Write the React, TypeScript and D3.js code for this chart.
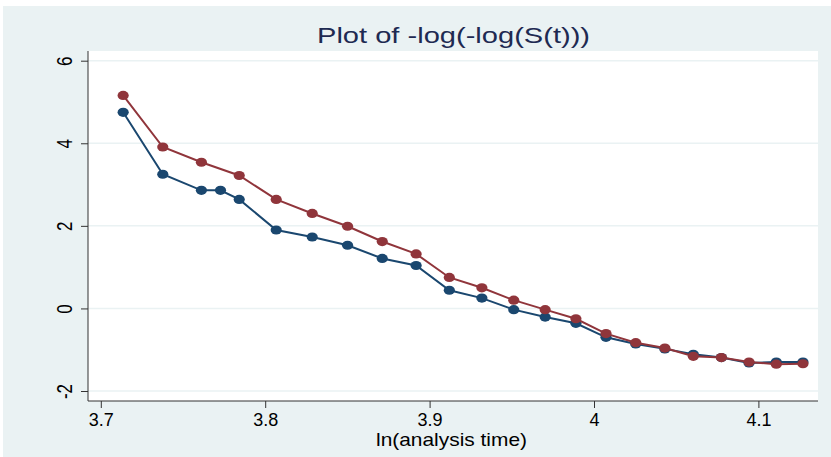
import { useEffect, useRef } from "react";
import * as d3 from "d3";

// ln(analysis time) values
const blueX = [3.7136, 3.7377, 3.7612, 3.7728, 3.7842, 3.8067, 3.8286, 3.8501, 3.8712, 3.8918, 3.912, 3.9318, 3.9512, 3.9703, 3.989, 4.0073, 4.0254, 4.0431, 4.0604, 4.0775, 4.0943, 4.1109, 4.1271];
const blueY = [4.75, 3.25, 2.86, 2.86, 2.64, 1.9, 1.73, 1.53, 1.21, 1.04, 0.44, 0.25, -0.03, -0.21, -0.36, -0.7, -0.86, -0.98, -1.11, -1.19, -1.32, -1.3, -1.3];
const redX = [3.7136, 3.7377, 3.7612, 3.7842, 3.8067, 3.8286, 3.8501, 3.8712, 3.8918, 3.912, 3.9318, 3.9512, 3.9703, 3.989, 4.0073, 4.0254, 4.0431, 4.0604, 4.0775, 4.0943, 4.1109, 4.1271];
const redY = [5.16, 3.91, 3.54, 3.22, 2.64, 2.3, 1.99, 1.62, 1.32, 0.75, 0.5, 0.2, -0.03, -0.25, -0.61, -0.83, -0.96, -1.16, -1.19, -1.3, -1.35, -1.34];
const xTicks = [3.7, 3.8, 3.9, 4, 4.1];
const yTicks = [-2, 0, 2, 4, 6];

export default function App() {
  const svgRef = useRef<SVGSVGElement | null>(null);

  useEffect(() => {
    const width = 831;
    const height = 457;
    const svg = d3.select(svgRef.current).attr("width", width).attr("height", height);
    svg.selectAll("*").remove();

    const font = "Liberation Sans, Arial, sans-serif";
    const plot = { left: 88, right: 818, top: 51, bottom: 401 };

    const x = d3.scaleLinear().domain([3.7, 4.1]).range([100.8, 758.4]);
    const y = d3.scaleLinear().domain([-2, 6]).range([391, 60.7]);

    // Background
    svg.append("rect").attr("width", width).attr("height", height).attr("fill", "#ffffff");
    svg.append("rect").attr("x", 3).attr("y", 6).attr("width", width - 3).attr("height", height - 6).attr("fill", "#eaf2f3");
    svg.append("rect")
      .attr("x", plot.left).attr("y", plot.top)
      .attr("width", plot.right - plot.left).attr("height", plot.bottom - plot.top)
      .attr("fill", "#ffffff");

    // Gridlines
    svg.append("g")
      .selectAll("line")
      .data(yTicks)
      .enter()
      .append("line")
      .attr("x1", plot.left).attr("x2", plot.right)
      .attr("y1", (d) => y(d)).attr("y2", (d) => y(d))
      .attr("stroke", "#eaf2f3").attr("stroke-width", 1.5);

    // Y axis
    const yAxis = svg.append("g")
      .attr("transform", `translate(${plot.left},0)`)
      .call(d3.axisLeft(y).tickValues(yTicks).tickSize(7).tickFormat((d) => `${d}`));
    yAxis.select(".domain").attr("d", `M0,${plot.top}V${plot.bottom}`).attr("stroke", "#333");
    yAxis.selectAll(".tick line").attr("stroke", "#333");
    yAxis.selectAll(".tick text")
      .attr("x", 0).attr("dy", null)
      .attr("transform", "translate(-16,0) scale(1.3,1) rotate(-90)")
      .attr("text-anchor", "middle")
      .attr("font-family", font).attr("font-size", 17).attr("fill", "#000");

    // X axis
    const xAxis = svg.append("g")
      .attr("transform", `translate(0,${plot.bottom})`)
      .call(d3.axisBottom(x).tickValues(xTicks).tickSize(7).tickFormat((d) => `${d}`));
    xAxis.select(".domain").attr("d", `M${plot.left},0H${plot.right}`).attr("stroke", "#333");
    xAxis.selectAll(".tick line").attr("stroke", "#333");
    xAxis.selectAll(".tick text")
      .attr("y", 12)
      .attr("font-family", font).attr("font-size", 18).attr("fill", "#000");

    // Series
    const series = [
      { xs: blueX, ys: blueY, color: "#1a476f" },
      { xs: redX, ys: redY, color: "#90353b" },
    ];
    const line = d3.line<[number, number]>().x((d) => x(d[0])).y((d) => y(d[1]));
    series.forEach((s) => {
      const pts: [number, number][] = s.xs.map((v, i) => [v, s.ys[i]]);
      svg.append("path").attr("d", line(pts)).attr("fill", "none")
        .attr("stroke", s.color).attr("stroke-width", 2);
      svg.append("g").selectAll("ellipse").data(pts).enter().append("ellipse")
        .attr("cx", (d) => x(d[0])).attr("cy", (d) => y(d[1]))
        .attr("rx", 5.6).attr("ry", 4.6).attr("fill", s.color);
    });

    // Titles
    svg.append("text")
      .attr("x", 453.5).attr("y", 43)
      .attr("text-anchor", "middle")
      .attr("textLength", 273).attr("lengthAdjust", "spacingAndGlyphs")
      .attr("font-family", font).attr("font-size", 22).attr("fill", "#1e2a52")
      .text("Plot of -log(-log(S(t)))");
    svg.append("text")
      .attr("x", 451.5).attr("y", 446)
      .attr("text-anchor", "middle")
      .attr("textLength", 151).attr("lengthAdjust", "spacingAndGlyphs")
      .attr("font-family", font).attr("font-size", 19).attr("fill", "#000")
      .text("ln(analysis time)");
  }, []);

  return <svg ref={svgRef} style={{ position: "absolute", left: 0, top: 0 }}></svg>;
}
